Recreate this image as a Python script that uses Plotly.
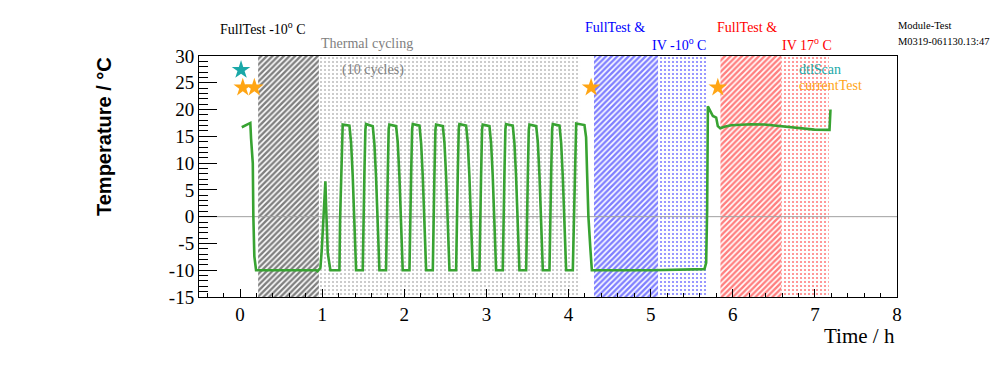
import plotly.graph_objects as go

# ---------------- data ----------------
warmup_t = [0.021, 0.125, 0.134, 0.155, 0.162, 0.174, 0.195, 0.500, 0.926, 0.944,
            0.978, 0.995, 1.019, 1.039, 1.047, 1.068, 1.100]
warmup_T = [16.7, 17.5, 14.6, 10.0, 0.0, -7.4, -10.0, -10.0, -10.0, -10.2,
            -9.6, -6.2, 2.6, 6.6, 2.3, -6.8, -10.0]

cycling_t = [
    1.210, 1.218, 1.230, 1.242, 1.250, 1.332, 1.352, 1.372, 1.393, 1.405, 1.413,
    1.494, 1.502, 1.514, 1.526, 1.534, 1.616, 1.636, 1.656, 1.677, 1.689, 1.697,
    1.778, 1.786, 1.798, 1.810, 1.818, 1.900, 1.920, 1.940, 1.961, 1.973, 1.981,
    2.063, 2.071, 2.083, 2.095, 2.103, 2.185, 2.205, 2.225, 2.246, 2.258, 2.266,
    2.347, 2.355, 2.367, 2.379, 2.387, 2.469, 2.489, 2.509, 2.530, 2.542, 2.550,
    2.631, 2.639, 2.651, 2.663, 2.671, 2.753, 2.773, 2.793, 2.814, 2.826, 2.834,
    2.915, 2.923, 2.935, 2.947, 2.955, 3.037, 3.057, 3.077, 3.098, 3.110, 3.118,
    3.199, 3.207, 3.219, 3.231, 3.239, 3.321, 3.341, 3.361, 3.382, 3.394, 3.402,
    3.484, 3.492, 3.504, 3.516, 3.524, 3.606, 3.626, 3.646, 3.667, 3.679, 3.687,
    3.768, 3.776, 3.788, 3.800, 3.808, 3.890, 3.910, 3.930, 3.951, 3.963, 3.971,
    4.052, 4.065, 4.080, 4.093, 4.194, 4.214, 4.226, 4.242, 4.267, 4.284,
]
cycling_T = [
    -10.0, -0.5, 7.6, 16.3, 17.2, 17.0, 13.8, 7.6, -0.6, -6.2, -10.0,
    -10.0, -0.4, 7.8, 16.2, 17.3, 16.9, 13.6, 7.4, -0.8, -6.4, -10.0,
    -10.0, -0.6, 7.5, 16.4, 17.2, 16.9, 13.9, 7.7, -0.5, -6.1, -10.0,
    -10.0, -0.5, 7.6, 16.3, 17.3, 17.0, 13.7, 7.5, -0.7, -6.3, -10.0,
    -10.0, -0.4, 7.7, 16.2, 17.2, 16.9, 13.8, 7.6, -0.6, -6.2, -10.0,
    -10.0, -0.5, 7.6, 16.4, 17.3, 17.0, 13.8, 7.5, -0.6, -6.3, -10.0,
    -10.0, -0.6, 7.5, 16.3, 17.2, 16.9, 13.7, 7.6, -0.7, -6.2, -10.0,
    -10.0, -0.5, 7.7, 16.3, 17.3, 17.0, 13.8, 7.6, -0.6, -6.1, -10.0,
    -10.0, -0.4, 7.6, 16.2, 17.2, 16.9, 13.9, 7.7, -0.5, -6.2, -10.0,
    -10.0, -0.5, 7.6, 16.3, 17.3, 17.0, 13.8, 7.5, -0.6, -6.3, -10.0,
    -10.0, 0.8, 13.0, 17.4, 17.1, 14.8, 8.2, 0.0, -6.2, -10.0,
]

final_t = [5.000, 5.655, 5.676, 5.688, 5.697, 5.737, 5.758, 5.798, 5.818, 5.847,
           5.899, 5.981, 6.224, 6.386, 6.590, 6.793, 6.995, 7.178, 7.190]
final_T = [-10.0, -9.8, -8.6, 1.3, 20.6, 19.4, 18.8, 18.5, 16.9, 16.5,
           16.8, 17.06, 17.25, 17.2, 16.9, 16.5, 16.25, 16.2, 20.0]

# test periods (hours)
period_start = [0.22, 0.96, 4.31, 5.09, 5.85, 6.59]
period_end = [0.96, 4.14, 5.09, 5.68, 6.59, 7.17]

# markers
dtlscan_t = [0.012]
dtlscan_T = [27.4]
current_t = [0.033, 0.174, 4.275, 5.818]
current_T = [24.1, 24.1, 24.1, 24.1]

x_range = [-0.5, 8.0]
y_range = [-15, 30]
x_tickvals = [0, 1, 2, 3, 4, 5, 6, 7, 8]
x_ticktext = ["0", "1", "2", "3", "4", "5", "6", "7", "8"]
y_tickvals = [-15, -10, -5, 0, 5, 10, 15, 20, 25, 30]
y_ticktext = ["-15", "-10", "-5", "0", "5", "10", "15", "20", "25", "30"]

# ---------------- styles ----------------
period_styles = [
    dict(shape="/", fgcolor="black", size=4, solidity=0.6),
    dict(shape=".", fgcolor="#777777", size=4, solidity=0.2),
    dict(shape="/", fgcolor="#0000ff", size=4, solidity=0.6),
    dict(shape=".", fgcolor="#0000ff", size=4, solidity=0.22),
    dict(shape="/", fgcolor="#ff0000", size=4, solidity=0.6),
    dict(shape=".", fgcolor="#ff0000", size=4, solidity=0.22),
]

SERIF = "Liberation Serif"
GREEN = "#38a332"
CYAN = "#1aa8a8"
ORANGE = "#ffa514"

fig = go.Figure()

for s, e, st in zip(period_start, period_end, period_styles):
    fig.add_trace(go.Scatter(
        x=[s, e, e, s, s], y=[y_range[0], y_range[0], y_range[1], y_range[1], y_range[0]],
        mode="none", fill="toself", fillcolor="rgba(0,0,0,0)",
        fillpattern=dict(bgcolor="rgba(0,0,0,0)", **st),
        hoverinfo="skip", showlegend=False))

# zero line
fig.add_trace(go.Scatter(x=x_range, y=[0, 0], mode="lines",
                         line=dict(color="#a0a0a0", width=1),
                         hoverinfo="skip", showlegend=False))

fig.add_trace(go.Scatter(
    x=warmup_t + cycling_t + final_t, y=warmup_T + cycling_T + final_T,
    mode="lines", line=dict(color=GREEN, width=2.6), showlegend=False))

fig.add_trace(go.Scatter(x=dtlscan_t, y=dtlscan_T, mode="markers",
                         marker=dict(symbol="star", size=14, color=CYAN, line=dict(width=0)),
                         showlegend=False))
fig.add_trace(go.Scatter(x=current_t, y=current_T, mode="markers",
                         marker=dict(symbol="star", size=14, color=ORANGE, line=dict(width=0)),
                         showlegend=False))

# ---------------- layout ----------------
W, H = 996, 372
L, R, T, B = 199, 897, 56, 297


def px(x, y):
    return (x - L) / (R - L), (B - y) / (B - T)


def note(text, x, y, color="black", size=14, xanchor="left", font=SERIF, **kw):
    xp, yp = px(x, y)
    fig.add_annotation(text=text, x=xp, y=yp, xref="paper", yref="paper",
                       xanchor=xanchor, yanchor="middle", showarrow=False,
                       font=dict(family=font, size=size, color=color), **kw)


note("FullTest -10<sup>o</sup> C", 218, 28)
note("Thermal cycling", 367, 44, color="#808080", xanchor="center")
note("(10 cycles)", 373, 70, color="#808080", xanchor="center")
note("FullTest &amp;", 583, 28, color="#0000ff")
note("IV -10<sup>o</sup> C", 650, 44, color="#0000ff")
note("FullTest &amp;", 715, 28, color="#ff0000")
note("IV 17<sup>o</sup> C", 780, 44, color="#ff0000")
note("Module-Test", 896, 25, size=10.5)
note("M0319-061130.13:47", 896, 41, size=10.5)
note("dtlScan", 797, 69, color=CYAN, size=14)
note("currentTest", 797, 85, color=ORANGE, size=14)
note("Time / h", 897, 336, size=21, xanchor="right")
note("<b>Temperature / °C</b>", 104, 137, size=20, xanchor="center",
     font="Liberation Sans", textangle=-90)

axis_common = dict(showgrid=False, zeroline=False, showline=True, linecolor="black",
                   linewidth=1, mirror=True, ticks="inside", tickcolor="black",
                   tickmode="array",
                   tickfont=dict(family=SERIF, size=19, color="black"))

fig.update_layout(
    width=W, height=H,
    margin=dict(l=L, r=W - R, t=T, b=H - B),
    paper_bgcolor="white", plot_bgcolor="white",
    xaxis=dict(range=x_range, tickvals=x_tickvals, ticktext=x_ticktext, ticklen=8,
               minor=dict(dtick=0.2, tick0=0, ticklen=4, ticks="inside", tickcolor="black"),
               **axis_common),
    yaxis=dict(range=y_range, tickvals=y_tickvals, ticktext=y_ticktext, ticklen=18,
               minor=dict(dtick=1, tick0=0, ticklen=9, ticks="inside", tickcolor="black"),
               **axis_common),
)

fig.write_html("out.html", config={"displayModeBar": False},
               post_script="document.body.style.margin='0px';document.body.style.overflow='hidden';")
